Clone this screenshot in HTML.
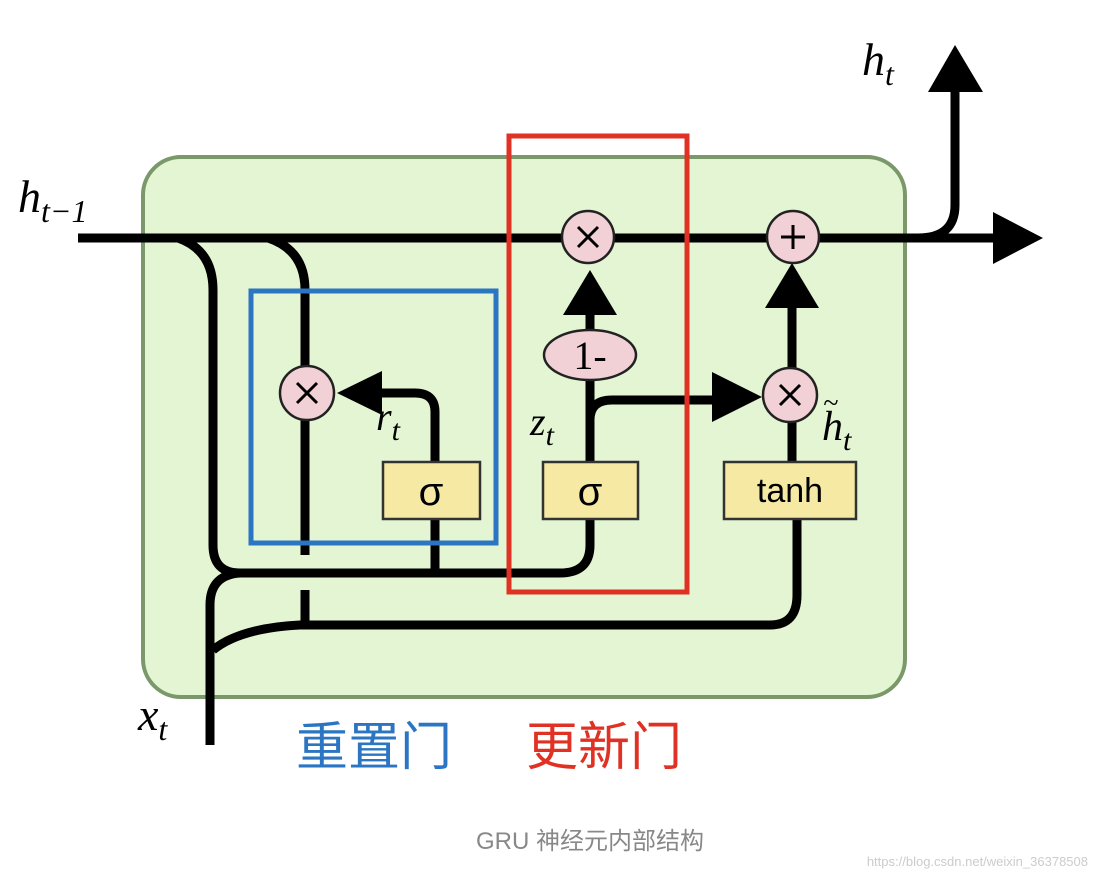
<!DOCTYPE html>
<html><head><meta charset="utf-8"><style>
html,body{margin:0;padding:0;background:#fff;width:1098px;height:880px;overflow:hidden}
svg{display:block}
</style></head><body>
<svg width="1098" height="880" viewBox="0 0 1098 880" xmlns="http://www.w3.org/2000/svg">
<rect x="143" y="157" width="762" height="540" rx="38" fill="#e3f5d2" stroke="#7a9869" stroke-width="4"/>
<g fill="none" stroke="#000" stroke-width="9" stroke-linecap="butt">
<line x1="78" y1="238" x2="1000" y2="238"/>
<path d="M918 238 Q955 238 955 205 L955 88"/>
<path d="M178 238 Q213 250 213 290 L213 545 Q213 573 240 573 L560 573 Q590 573 590 545 L590 519"/>
<path d="M435 519 L435 573"/>
<path d="M268 238 Q305 250 305 290 L305 555"/>
<path d="M305 590 L305 625"/>
<path d="M213 650 Q240 628 300 625 L770 625 Q797 625 797 595 L797 519"/>
<path d="M210 745 L210 605 Q210 575 240 573"/>
<path d="M435 462 L435 412 Q435 393 415 393 L375 393"/>
<path d="M590 462 L590 380"/>
<path d="M590 420 Q590 400 612 400 L715 400"/>
<path d="M590 330 L590 310"/>
<path d="M792 462 L792 420"/>
<path d="M792 368 L792 305"/>
</g>
<g fill="#000">
<polygon points="993,212 1043,238 993,264"/>
<polygon points="928,92 955,45 983,92"/>
<polygon points="337,393 382,371 382,415"/>
<polygon points="762,397 712,372 712,422"/>
<polygon points="590,270 563,315 617,315"/>
<polygon points="792,263 765,308 819,308"/>
</g>
<g fill="#f2d1d6" stroke="#222" stroke-width="2.5">
<circle cx="588" cy="237" r="26"/>
<circle cx="793" cy="237" r="26"/>
<circle cx="307" cy="393" r="27"/>
<circle cx="790" cy="395" r="27"/>
<ellipse cx="590" cy="355" rx="46" ry="25"/>
</g>
<g stroke="#000" stroke-width="3">
<line x1="578" y1="227" x2="598" y2="247"/><line x1="598" y1="227" x2="578" y2="247"/>
<line x1="297" y1="383" x2="317" y2="403"/><line x1="317" y1="383" x2="297" y2="403"/>
<line x1="780" y1="385" x2="800" y2="405"/><line x1="800" y1="385" x2="780" y2="405"/>
<line x1="793" y1="225" x2="793" y2="249"/><line x1="781" y1="237" x2="805" y2="237"/>
</g>
<text x="590" y="369" font-family="Liberation Serif, serif" font-size="40" text-anchor="middle">1-</text>
<g fill="#f5e9a3" stroke="#333" stroke-width="2.5">
<rect x="383" y="462" width="97" height="57"/>
<rect x="543" y="462" width="95" height="57"/>
<rect x="724" y="462" width="132" height="57"/>
</g>
<g font-family="Liberation Sans, DejaVu Sans, sans-serif" font-size="40" text-anchor="middle">
<text x="431" y="505">σ</text>
<text x="590" y="505">σ</text>
<text x="790" y="502" font-size="34">tanh</text>
</g>
<rect x="509" y="136" width="178" height="456" fill="none" stroke="#e03224" stroke-width="5"/>
<rect x="251" y="291" width="245" height="252" fill="none" stroke="#2b75c2" stroke-width="5"/>
<g font-family="Liberation Serif, serif" font-style="italic" font-size="46">
<text x="18" y="212">h<tspan font-size="32" dy="10">t−1</tspan></text>
<text x="862" y="75">h<tspan font-size="32" dy="10">t</tspan></text>
<text x="376" y="430" font-size="40">r<tspan font-size="30" dy="10">t</tspan></text>
<text x="530" y="435" font-size="40">z<tspan font-size="30" dy="10">t</tspan></text>
<text x="822" y="440" font-size="42">h<tspan font-size="30" dy="10">t</tspan></text>
<text x="823" y="412" font-size="28">~</text>
<text x="138" y="730">x<tspan font-size="32" dy="10">t</tspan></text>
</g>
<g font-family="Liberation Sans, Noto Sans CJK SC, sans-serif" font-size="52">
<text x="296" y="765" fill="#2b75c2">重置门</text>
<text x="526" y="765" fill="#e03224">更新门</text>
</g>
<text x="590" y="849" font-family="Liberation Sans, Noto Sans CJK SC, sans-serif" font-size="24" fill="#888" text-anchor="middle">GRU 神经元内部结构</text>
<text x="1088" y="866" font-family="Liberation Sans, sans-serif" font-size="13" fill="#ccc" text-anchor="end">https://blog.csdn.net/weixin_36378508</text>
</svg>
</body></html>
